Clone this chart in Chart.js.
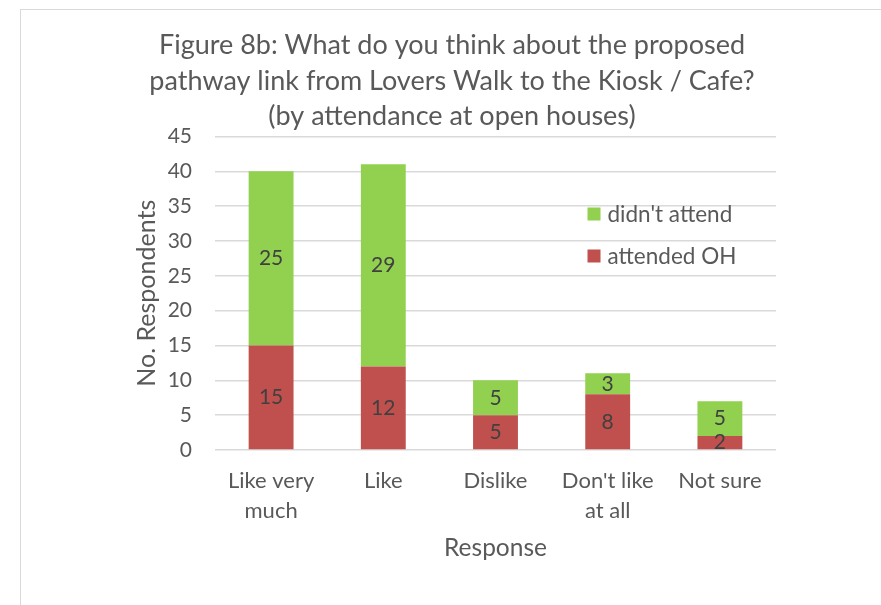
<!DOCTYPE html>
<html>
<head>
<meta charset="utf-8">
<script src="https://cdn.jsdelivr.net/npm/chart.js@4/dist/chart.umd.min.js"></script>
<style>
  html, body { margin: 0; padding: 0; background: #ffffff; }
  #wrap { position: relative; width: 881px; height: 605px; overflow: hidden; }
  #frame { position: absolute; left: 20px; top: 9px; width: 1000px; height: 1000px;
           border-left: 1.5px solid #d9d9d9; border-top: 1.5px solid #d9d9d9; }
  #c { position: absolute; left: 0; top: 0; }
</style>
</head>
<body>
<div id="wrap">
  <div id="frame"></div>
  <canvas id="c" width="881" height="605"></canvas>
</div>
<script>
// Survey responses, split by whether the respondent attended an open house
const categories = [["Like very", "much"], "Like", "Dislike", ["Don't like", "at all"], "Not sure"];
const attendedOH = [15, 12, 5, 8, 2];
const didntAttend = [25, 29, 5, 3, 5];
const titleLines = [
  "Figure 8b: What do you think about the proposed",
  "pathway link from Lovers Walk to the Kiosk / Cafe?",
  "(by attendance at open houses)"
];

const FONT = "Lato, 'Open Sans', sans-serif";
const TEXT = "#595959";

// Writes each segment's value in the middle of its bar segment
const segmentLabels = {
  id: "segmentLabels",
  afterDatasetsDraw(chart) {
    const ctx = chart.ctx;
    ctx.save();
    ctx.font = "21px " + FONT;
    ctx.fillStyle = "#404040";
    ctx.textAlign = "center";
    ctx.textBaseline = "middle";
    chart.data.datasets.forEach((ds, i) => {
      chart.getDatasetMeta(i).data.forEach((bar, j) => {
        const y = (bar.y + bar.base) / 2;
        ctx.fillText(String(ds.data[j]), bar.x, y);
      });
    });
    ctx.restore();
  }
};

// Legend drawn inside the plot, listing the top series first
const innerLegend = {
  id: "innerLegend",
  afterDraw(chart) {
    const ctx = chart.ctx;
    const area = chart.chartArea;
    const x = area.left + (area.right - area.left) * 0.664;
    const rows = [chart.data.datasets[1], chart.data.datasets[0]];
    ctx.save();
    ctx.font = "22.5px " + FONT;
    ctx.textBaseline = "middle";
    ctx.textAlign = "left";
    rows.forEach((ds, k) => {
      const y = area.top + 78 + k * 42;
      ctx.fillStyle = ds.backgroundColor;
      ctx.fillRect(x, y - 7, 13, 13);
      ctx.fillStyle = TEXT;
      ctx.fillText(ds.label, x + 20, y);
    });
    ctx.restore();
  }
};

new Chart(document.getElementById("c"), {
  type: "bar",
  data: {
    labels: categories,
    datasets: [
      { label: "attended OH", data: attendedOH, backgroundColor: "#c0504d", borderWidth: 0 },
      { label: "didn't attend", data: didntAttend, backgroundColor: "#92d050", borderWidth: 0 }
    ]
  },
  options: {
    responsive: false,
    devicePixelRatio: 1,
    animation: false,
    layout: { padding: { left: 23, right: 0, top: 10, bottom: 0 } },
    datasets: { bar: { categoryPercentage: 1, barPercentage: 0.4 } },
    plugins: {
      legend: { display: false },
      tooltip: { enabled: false },
      title: {
        display: true,
        text: titleLines,
        color: TEXT,
        font: { family: FONT, size: 27, weight: "normal", lineHeight: "35.5px" },
        padding: { top: 18, bottom: 2 }
      }
    },
    scales: {
      x: {
        stacked: true,
        grid: { display: false, drawTicks: false },
        border: { display: false },
        ticks: { color: TEXT, padding: 16, font: { family: FONT, size: 22, lineHeight: "30px" } },
        title: {
          display: true, text: "Response", color: TEXT,
          font: { family: FONT, size: 24.5 }, padding: { top: 0, bottom: 42 }
        },
        afterFit(scale) { scale.height = 155; }
      },
      y: {
        stacked: true,
        min: 0, max: 45,
        grid: { color: "#d9d9d9", lineWidth: 1.5, drawTicks: false },
        border: { display: false },
        ticks: { stepSize: 5, color: TEXT, padding: 23, font: { family: FONT, size: 21 } },
        title: {
          display: true, text: "No. Respondents", color: TEXT,
          font: { family: FONT, size: 25 }, padding: { top: 109, bottom: 0 }
        },
        afterFit(scale) { scale.width = 192; }
      },
      // empty right-hand margin axis so the plot ends short of the frame
      side: {
        type: "linear",
        position: "right",
        display: true,
        grid: { display: false, drawTicks: false },
        border: { display: false },
        ticks: { display: false },
        afterFit(scale) { scale.width = 105; }
      }
    }
  },
  plugins: [segmentLabels, innerLegend]
});
</script>
</body>
</html>
